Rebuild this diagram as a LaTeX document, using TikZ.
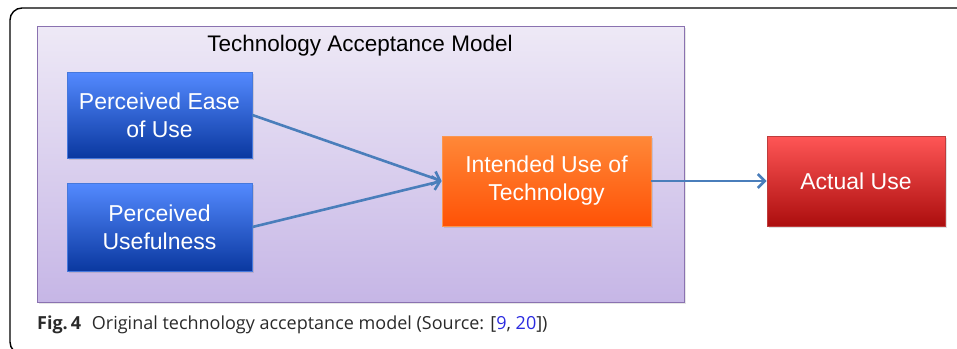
\documentclass[tikz,border=0pt]{standalone}
\usepackage{fontspec}
\setmainfont{Liberation Sans}
\newfontfamily\capfont{Open Sans}
\usetikzlibrary{arrows.meta,shadows}
\definecolor{arrowblue}{HTML}{4A7EBB}
\definecolor{linkblue}{HTML}{2B2BE0}
\definecolor{capgray}{HTML}{2A2A2A}
\tikzset{
  box/.style={draw, line width=0.8pt, text=white, align=center,
    font=\fontsize{23}{28}\selectfont, inner sep=0pt,
    drop shadow={shadow xshift=1.5pt, shadow yshift=-1.5pt, opacity=0.25}},
  bluebox/.style={box, draw={rgb,255:red,70;green,120;blue,220},
    top color={rgb,255:red,84;green,138;blue,255}, bottom color={rgb,255:red,10;green,56;blue,160}},
  orangebox/.style={box, draw={rgb,255:red,250;green,150;blue,80},
    top color={rgb,255:red,255;green,136;blue,56}, bottom color={rgb,255:red,255;green,82;blue,6}},
  redbox/.style={box, draw={rgb,255:red,190;green,60;blue,60},
    top color={rgb,255:red,255;green,86;blue,86}, bottom color={rgb,255:red,172;green,14;blue,14}},
  conn/.style={draw=arrowblue, line width=2.6pt, -{Straight Barb[length=7pt,width=14pt,line width=2.6pt]}},
}
\begin{document}
\begin{tikzpicture}[x=1pt,y=-1pt]
\useasboundingbox (0,0) rectangle (957,348);
% outer page frame
\draw[line width=1.4pt, black, rounded corners=12pt] (970,8) -- (10,8) -- (10,354) -- (40,354);
% purple container
\node[draw={rgb,255:red,138;green,114;blue,176}, line width=1pt,
  top color={rgb,255:red,238;green,233;blue,246}, bottom color={rgb,255:red,198;green,182;blue,230},
  minimum width=647pt, minimum height=276pt, inner sep=0pt,
  drop shadow={shadow xshift=1.5pt, shadow yshift=-1.5pt, opacity=0.2}] (tam) at (360.5,164) {};
\node[font=\fontsize{22.5}{28}\selectfont, text=black] (title) at (360,46) {Technology Acceptance Model};
\node[bluebox, minimum width=185pt, minimum height=86pt] (peu) at (159.5,115) {Perceived Ease\\of Use};
\node[bluebox, minimum width=185pt, minimum height=88pt] (pu) at (159.5,227) {Perceived\\Usefulness};
\node[orangebox, minimum width=209pt, minimum height=90pt] (iut) at (546.5,181) {Intended Use of\\Technology};
\node[redbox, minimum width=178pt, minimum height=90pt] (au) at (856,181) {Actual Use};
\coordinate (in) at (iut.west);
\draw[conn] (peu.east) -- (in);
\draw[conn] (pu.east) -- (in);
\draw[conn, line width=2pt] (iut.east) -- (au.west);
% caption
\node[anchor=base west, inner sep=0pt, font=\capfont\fontsize{18}{21}\selectfont, text=capgray] (cap) at (37,329)
  {\textbf{Fig.\,4}\hspace{0.6em}Original technology acceptance model (Source: [{\color{linkblue}9}, {\color{linkblue}20}])};
\end{tikzpicture}
\end{document}
